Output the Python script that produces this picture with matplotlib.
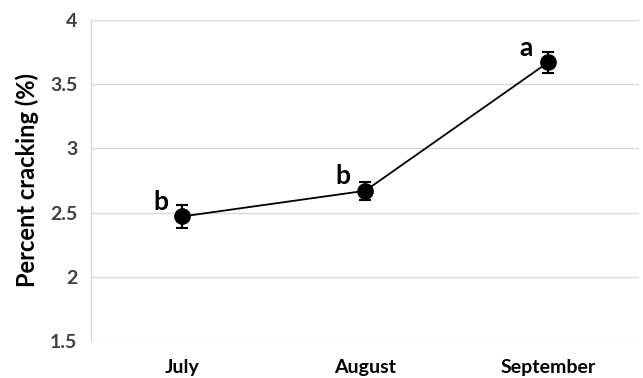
import matplotlib
matplotlib.use("Agg")
import matplotlib.pyplot as plt

months = ["July", "August", "September"]
cracking = [2.47, 2.67, 3.67]
errors = [0.09, 0.07, 0.08]
letters = ["b", "b", "a"]
yticks = [1.5, 2, 2.5, 3, 3.5, 4]

plt.rcParams['font.family'] = ['Lato', 'DejaVu Sans']

fig = plt.figure(figsize=(6.43, 3.78), dpi=100)
ax = fig.add_axes([0.1415, 0.098, 0.853, 0.849])

x = list(range(len(months)))
ax.errorbar(x, cracking, yerr=errors, color='black', marker='o', markersize=11,
            linewidth=1.3, elinewidth=1.5, capsize=4, capthick=1.5, zorder=3)

for xi, yi, lab in zip(x, cracking, letters):
    ax.text(xi - 0.12, yi + 0.02, lab, fontsize=19, fontweight='bold',
            ha='center', va='bottom', color='black')

ax.set_xlim(-0.5, 2.5)
ax.set_ylim(1.5, 4)
ax.set_yticks(yticks)
ax.set_yticklabels([f"{t:g}" for t in yticks])
ax.set_xticks(x)
ax.set_xticklabels(months, fontweight='bold')
ax.grid(axis='y', color='#d9d9d9', linewidth=1.0)
ax.set_axisbelow(True)
for s in ['top', 'right', 'bottom']:
    ax.spines[s].set_visible(False)
ax.spines['left'].set_color('#d9d9d9')
ax.spines['left'].set_linewidth(1.0)
ax.tick_params(axis='both', length=0, labelsize=14, colors='#404040', pad=10)
ax.tick_params(axis='x', labelcolor='black', pad=13)
for lbl in ax.get_yticklabels():
    lbl.set_fontweight('bold')
    lbl.set_color('#404040')
ax.set_ylabel("Percent cracking (%)", fontsize=17, fontweight='bold', color='black', labelpad=8)

fig.savefig("out.png", dpi=100)
